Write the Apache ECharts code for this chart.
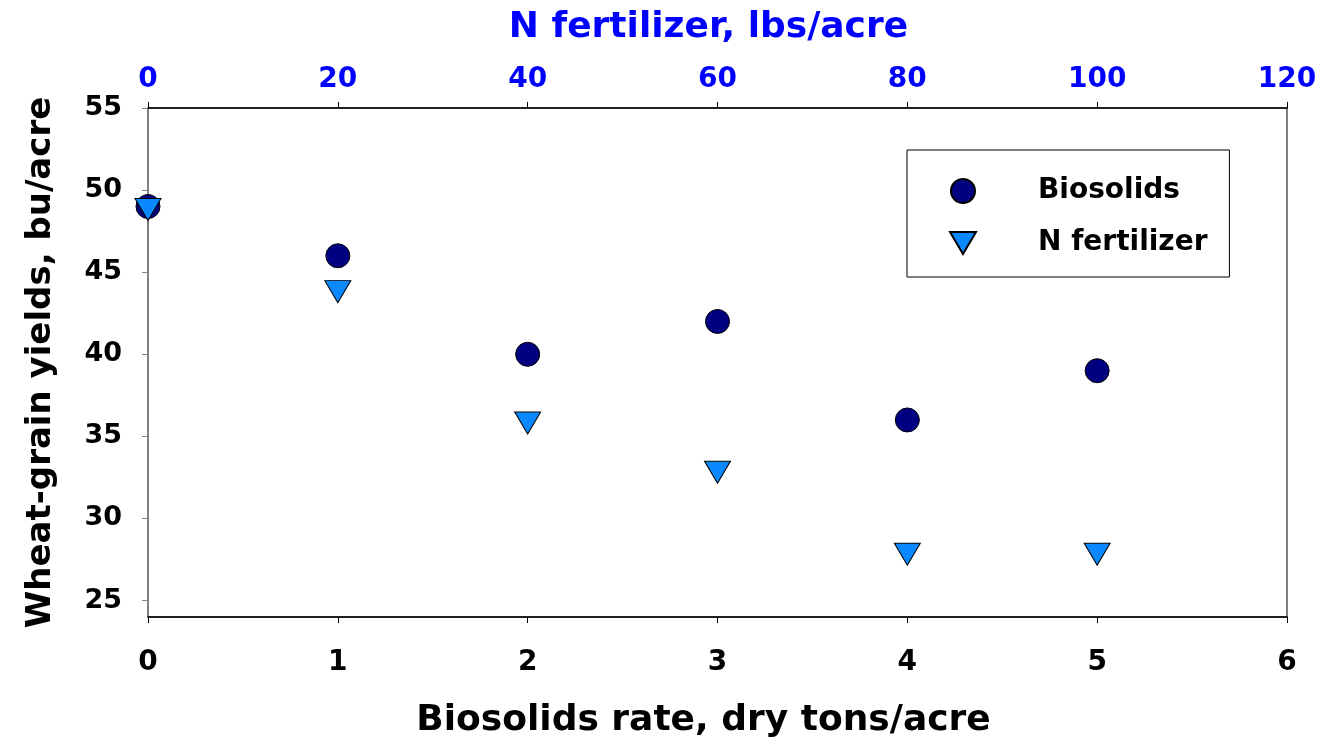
<!DOCTYPE html>
<html>
<head>
<meta charset="utf-8">
<script src="https://cdn.jsdelivr.net/npm/echarts@6/dist/echarts.min.js"></script>
<style>
html,body{margin:0;padding:0;background:#fff;}
#chart{width:1320px;height:746px;}
</style>
</head>
<body>
<div id="chart"></div>
<script>
// Data
const biosolidsRate = [0, 1, 2, 3, 4, 5];          // dry tons/acre (bottom axis)
const biosolidsYield = [49, 46, 40, 42, 36, 39];    // bu/acre
const nFertRate = [0, 20, 40, 60, 80, 100];         // lbs/acre (top axis)
const nFertYield = [49, 44, 36, 33, 28, 28];        // bu/acre
const yTickValues = [25, 30, 35, 40, 45, 50, 55];

const FONT = 'DejaVu Sans';
const chart = echarts.init(document.getElementById('chart'), null, {renderer: 'canvas'});
const downTri = 'path://M0,0L26,0L13,22Z';

chart.setOption({
  animation: false,
  backgroundColor: '#fff',
  grid: {left: 148, right: 33, top: 108, bottom: 129, show: true, borderColor: '#000', borderWidth: 1, backgroundColor: 'transparent'},
  legend: {
    orient: 'vertical',
    left: 907, top: 150,
    padding: [25, 22, 18, 42],
    itemGap: 20,
    itemWidth: 26, itemHeight: 24,
    borderColor: '#000', borderWidth: 1,
    textStyle: {fontFamily: FONT, fontWeight: 'bold', fontSize: 28, color: '#000', lineHeight: 32, padding: [0, 0, 0, 57]},
    data: [
      {name: 'Biosolids', icon: 'circle'},
      {name: 'N fertilizer', icon: downTri}
    ]
  },
  xAxis: [
    {
      type: 'value', position: 'bottom', min: 0, max: 6, interval: 1,
      name: 'Biosolids rate, dry tons/acre', nameLocation: 'middle', nameGap: 86,
      nameTextStyle: {fontFamily: FONT, fontWeight: 'bold', fontSize: 36, color: '#000', padding: [0, 28, 0, 0]},
      axisLine: {show: true, onZero: false, lineStyle: {color: '#000', width: 1.5}},
      axisTick: {show: true, inside: false, length: 6, lineStyle: {color: '#000'}},
      axisLabel: {fontFamily: FONT, fontWeight: 'bold', fontSize: 28, color: '#000', margin: 32},
      splitLine: {show: false}
    },
    {
      type: 'value', position: 'top', min: 0, max: 120, interval: 20,
      name: 'N fertilizer, lbs/acre', nameLocation: 'middle', nameGap: 62,
      nameTextStyle: {fontFamily: FONT, fontWeight: 'bold', fontSize: 36, color: '#0000ff', padding: [0, 18, 0, 0]},
      axisLine: {show: true, onZero: false, lineStyle: {color: '#000', width: 1.5}},
      axisTick: {show: true, inside: false, length: 6, lineStyle: {color: '#000'}},
      axisLabel: {fontFamily: FONT, fontWeight: 'bold', fontSize: 28, color: '#0000ff', margin: 14},
      splitLine: {show: false}
    }
  ],
  yAxis: {
    type: 'value', min: 24, max: 55,
    name: 'Wheat-grain yields, bu/acre', nameLocation: 'middle', nameGap: 90,
    nameTextStyle: {fontFamily: FONT, fontWeight: 'bold', fontSize: 34, color: '#000'},
    axisLine: {show: true, onZero: false, lineStyle: {color: '#808080', width: 1.5}},
    axisTick: {show: true, inside: false, length: 6, lineStyle: {color: '#808080'}, customValues: yTickValues},
    axisLabel: {fontFamily: FONT, fontWeight: 'bold', fontSize: 27, color: '#000', margin: 26, customValues: yTickValues},
    splitLine: {show: false}
  },
  series: [
    {
      name: 'Biosolids', type: 'scatter', xAxisIndex: 0,
      symbol: 'circle', symbolSize: 24,
      itemStyle: {color: '#000080', borderColor: '#000', borderWidth: 1, opacity: 1},
      data: biosolidsRate.map((x, i) => [x, biosolidsYield[i]]),
      z: 2
    },
    {
      name: 'N fertilizer', type: 'scatter', xAxisIndex: 1,
      symbol: downTri, symbolSize: [26, 22], symbolOffset: [0, 3],
      itemStyle: {color: '#0a88ff', borderColor: '#000', borderWidth: 1, opacity: 1},
      data: nFertRate.map((x, i) => [x, nFertYield[i]]),
      z: 3
    }
  ]
});
</script>
</body>
</html>
